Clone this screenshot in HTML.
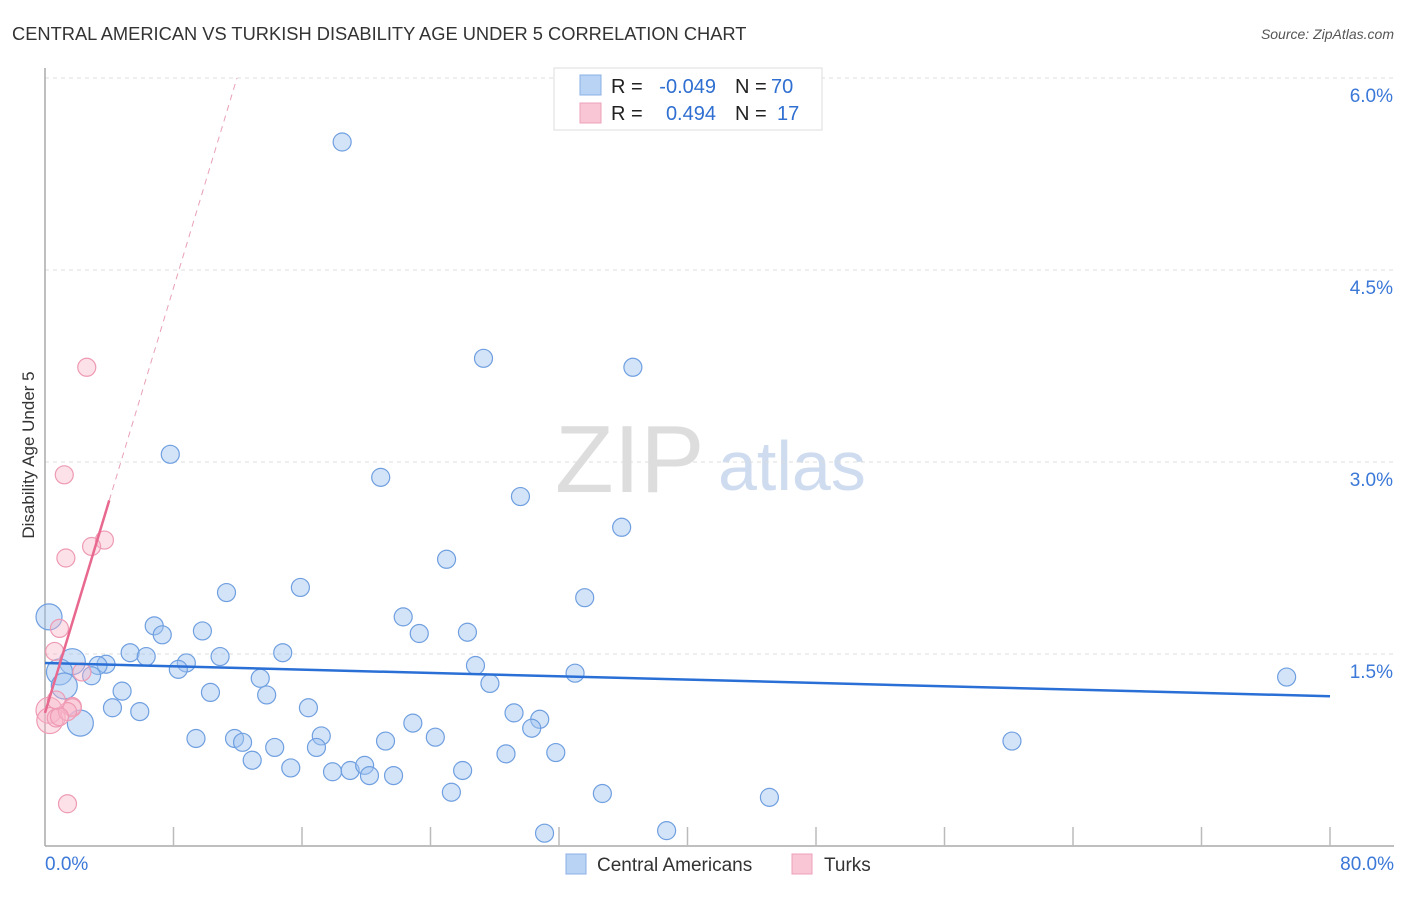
<!DOCTYPE html>
<html><head><meta charset="utf-8"><style>
body{margin:0;background:#fff;font-family:"Liberation Sans",sans-serif;}
svg text{font-family:"Liberation Sans",sans-serif;}
</style></head><body>
<svg width="1406" height="892" xmlns="http://www.w3.org/2000/svg">
<text x="12" y="40" font-size="18.3" fill="#333">CENTRAL AMERICAN VS TURKISH DISABILITY AGE UNDER 5 CORRELATION CHART</text>
<text x="1394" y="39" font-size="14" fill="#555" font-style="italic" text-anchor="end">Source: ZipAtlas.com</text>
<text x="34" y="455" font-size="17" fill="#333" text-anchor="middle" transform="rotate(-90 34 455)">Disability Age Under 5</text>
<text x="555" y="492" font-size="96" fill="#ddd" font-family="Liberation Serif">ZIP</text>
<text x="718" y="490" font-size="70" fill="#cfdcf0">atlas</text>
<g id="grid"></g>
<g id="axes"></g>
<g id="pts"></g>
<g id="lines"></g>
<g>
<rect x="554" y="68" width="268" height="62" fill="#fff" stroke="#ddd"/>
<rect x="580" y="75" width="21" height="20" fill="#b9d3f5" stroke="#8ab0e6"/>
<rect x="580" y="103" width="21" height="20" fill="#f9c6d5" stroke="#eda0b8"/>
<text x="611" y="93" font-size="20" fill="#222">R =</text>
<text x="716" y="93" font-size="20" fill="#2f6fd1" text-anchor="end">-0.049</text>
<text x="735" y="93" font-size="20" fill="#222">N =</text>
<text x="771" y="93" font-size="20" fill="#2f6fd1">70</text>
<text x="611" y="120" font-size="20" fill="#222">R =</text>
<text x="716" y="120" font-size="20" fill="#2f6fd1" text-anchor="end">0.494</text>
<text x="735" y="120" font-size="20" fill="#222">N =</text>
<text x="777" y="120" font-size="20" fill="#2f6fd1">17</text>
</g>
<g>
<rect x="566" y="854" width="20" height="20" fill="#b9d3f5" stroke="#8ab0e6"/>
<text x="597" y="871" font-size="19" fill="#333">Central Americans</text>
<rect x="792" y="854" width="20" height="20" fill="#f9c6d5" stroke="#eda0b8"/>
<text x="824" y="871" font-size="19" fill="#333">Turks</text>
</g>
</svg>
<script>
const blueX=[18.5,27.3,36.6,7.8,20.9,29.6,35.9,25.0,11.3,15.9,33.6,22.3,6.8,7.3,23.3,26.3,9.8,5.3,6.3,10.9,14.8,8.8,8.3,3.8,3.3,1.7,0.9,0.25,1.2,2.9,26.8,33.0,77.3,13.4,4.8,10.3,13.8,27.7,4.2,5.9,16.4,2.2,22.9,29.2,30.8,30.3,9.4,11.8,12.3,17.2,21.2,24.3,60.2,14.3,16.9,28.7,31.8,12.9,15.3,17.9,19.0,19.9,20.2,21.7,26.0,25.3,34.7,45.1,31.1,38.7];
const blueY=[5.50,3.81,3.74,3.06,2.88,2.73,2.49,2.24,1.98,2.02,1.94,1.79,1.72,1.65,1.66,1.67,1.68,1.51,1.48,1.48,1.51,1.43,1.38,1.42,1.41,1.44,1.36,1.79,1.25,1.33,1.41,1.35,1.32,1.31,1.21,1.20,1.18,1.27,1.08,1.05,1.08,0.96,0.96,1.04,0.99,0.92,0.84,0.84,0.81,0.86,0.82,0.85,0.82,0.77,0.77,0.72,0.73,0.67,0.61,0.58,0.59,0.63,0.55,0.55,0.59,0.42,0.41,0.38,0.10,0.12];
const blueBig=[0.25,0.9,1.2,1.7,2.2];
const pinkX=[2.6,1.2,1.3,3.7,2.9,0.9,0.6,2.3,0.25,0.3,0.7,1.7,1.7,1.4,0.9,1.4,0.7];
const pinkY=[3.74,2.90,2.25,2.39,2.34,1.70,1.52,1.36,1.06,0.98,1.00,1.09,1.08,1.05,1.01,0.33,1.14];
const blueTrend=[1.43,1.17];
const pinkTrend=[1.04,2.70];
const pinkTrendEndX=4.0;
const yTicks=[1.5,3.0,4.5,6.0];
const yTickLabels=["1.5%","3.0%","4.5%","6.0%"];
const xTicks=[0,8,16,24,32,40,48,56,64,72,80];
const NS="http://www.w3.org/2000/svg";
const sx=v=>45+v/80*1285, sy=v=>846-v*128;
function mk(tag,attrs,parent){const e=document.createElementNS(NS,tag);for(const k in attrs)e.setAttribute(k,attrs[k]);document.getElementById(parent).appendChild(e);return e;}
yTicks.forEach((t,i)=>{
 const g=mk('line',{x1:45,x2:1394,y1:sy(t),y2:sy(t),stroke:'#ddd','stroke-dasharray':'4,4'},'grid');
 
 
 const l=mk('text',{x:1393,y:sy(t)+24,'font-size':19,fill:'#3b78d8','text-anchor':'end'},'grid');
 l.textContent=yTickLabels[i];
 
 
});
const ax=mk('line',{x1:45,x2:45,y1:68,y2:846,stroke:'#aaa','stroke-width':1.5},'axes');


const bx=mk('line',{x1:45,x2:1394,y1:846,y2:846,stroke:'#aaa','stroke-width':1.5},'axes');


xTicks.slice(1).forEach(t=>{
 const e=mk('line',{x1:sx(t),x2:sx(t),y1:827,y2:846,stroke:'#bbb','stroke-width':1.5},'axes');
 
 
});
const x0=mk('text',{x:45,y:870,'font-size':19,fill:'#3b78d8'},'axes');x0.textContent='0.0%';


const x1=mk('text',{x:1394,y:870,'font-size':19,fill:'#3b78d8','text-anchor':'end'},'axes');x1.textContent='80.0%';


blueX.forEach((x,i)=>{
 const r=blueBig.includes(x)&&x<2.5?13:9;
 const c=mk('circle',{cx:sx(x),cy:sy(blueY[i]),r:r,fill:'rgba(160,196,240,0.45)',stroke:'#6f9fe0','stroke-width':1.2},'pts');
 
 
});
pinkX.forEach((x,i)=>{
 const r=x<0.5?13:9;
 const c=mk('circle',{cx:sx(x),cy:sy(pinkY[i]),r:r,fill:'rgba(247,180,200,0.4)',stroke:'#ee9ab3','stroke-width':1.2},'pts');
 
 
});
const bl=mk('line',{x1:sx(0),y1:sy(blueTrend[0]),x2:sx(80),y2:sy(blueTrend[1]),stroke:'#2a6fd6','stroke-width':2.5},'lines');


const slope=(pinkTrend[1]-pinkTrend[0])/pinkTrendEndX;
const pl=mk('line',{x1:sx(0),y1:sy(pinkTrend[0]),x2:sx(pinkTrendEndX),y2:sy(pinkTrend[1]),stroke:'#e8688f','stroke-width':2.5},'lines');


const xe=(6.0-pinkTrend[0])/slope;
const pd=mk('line',{x1:sx(pinkTrendEndX),y1:sy(pinkTrend[1]),x2:sx(xe),y2:sy(6.0),stroke:'#e8a0b5','stroke-width':1,'stroke-dasharray':'6,5'},'lines');


</script>
</body></html>
